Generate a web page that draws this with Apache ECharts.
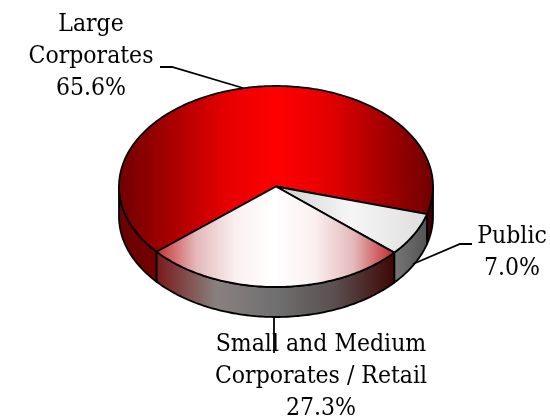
<!DOCTYPE html>
<html>
<head>
<meta charset="utf-8">
<style>html,body{margin:0;padding:0;background:#fff}#c{width:550px;height:417px}</style>
<script src="https://cdn.jsdelivr.net/npm/echarts@6/dist/echarts.min.js"></script>
</head>
<body>
<div id="c"></div>
<script>
const categories = ["Large\nCorporates", "Public", "Small and Medium\nCorporates / Retail"];
const values = [65.6, 7.0, 27.3];

const START = 139.5, CX = 276, CY = 186.5, RX = 157, RY = 100.5, DEPTH = 30;
const G = echarts.graphic.LinearGradient;
const hg = (x0, x1, stops) => new G(x0, 0, x1, 0, stops.map((c, i) => ({offset: i / (stops.length - 1), color: c})), true);

const styles = [
  {top: hg(119, 433, ['#700000', '#a80000', '#e40000', '#ff0000', '#e40000', '#a80000', '#700000']),
   wall: hg(119, 433, ['#6a0000', '#7a0000', '#900000', '#900000', '#700000', '#3c0000']),
   label: [91, 57], leader: [[160, 67], [172, 67], [243, 88]]},
  {top: hg(276, 426, ['#cfcfcf', '#f6f6f6', '#dedede']),
   wall: hg(393, 426, ['#777777', '#555555']),
   label: [512, 253], leader: [[472, 244], [460, 244], [413, 264]]},
  {top: hg(157, 393, ['#c83232', '#e4b8ba', '#fbf0f0', '#ffffff', '#fbf0f0', '#e4b8ba', '#c22c2c']),
   wall: hg(157, 393, ['#7a1a1a', '#8a8080', '#707070', '#5a5050', '#400808']),
   label: [321, 376.5], leader: [[274, 317], [274, 353]]}
];

const total = values.reduce((a, b) => a + b, 0);
const pt = (deg, dy) => {
  const t = deg * Math.PI / 180;
  return [CX + RX * Math.cos(t), CY + RY * Math.sin(t) + (dy || 0)];
};
const arc = (a, b, dy) => {
  const out = [], n = Math.max(2, Math.ceil(Math.abs(b - a)));
  for (let i = 0; i <= n; i++) out.push(pt(a + (b - a) * i / n, dy));
  return out;
};
// the part of a slice's sweep that faces the viewer (screen-lower half of the ellipse)
const wallRanges = (a, b) => {
  const r = [];
  for (const [lo, hi] of [[0, 180], [360, 540]]) {
    const s = Math.max(a, lo), e = Math.min(b, hi);
    if (e > s) r.push([s, e]);
  }
  return r;
};
const stroke = {stroke: '#000', lineWidth: 1.8, lineJoin: 'round'};

function sweep(i) {
  let a = START;
  for (let k = 0; k < i; k++) a += values[k] / total * 360;
  return [a, a + values[i] / total * 360];
}

const option = {
  animation: false,
  backgroundColor: '#fff',
  series: [
    { // walls first
      type: 'custom', coordinateSystem: 'none', silent: true, z: 1,
      data: values.map((v, i) => [i, v]),
      renderItem(params, api) {
        const i = api.value(0), [a, b] = sweep(i);
        return {type: 'group', children: wallRanges(a, b).map(([s, e]) => ({
          type: 'polygon',
          shape: {points: arc(s, e, 0).concat(arc(e, s, DEPTH))},
          style: Object.assign({fill: styles[i].wall}, stroke)
        }))};
      }
    },
    { // top faces
      type: 'custom', coordinateSystem: 'none', silent: true, z: 2,
      data: values.map((v, i) => [i, v]),
      renderItem(params, api) {
        const i = api.value(0), [a, b] = sweep(i);
        return {
          type: 'polygon',
          shape: {points: [[CX, CY]].concat(arc(a, b, 0))},
          style: Object.assign({fill: styles[i].top}, stroke)
        };
      }
    },
    { // leader lines and labels
      type: 'custom', coordinateSystem: 'none', silent: true, z: 3,
      data: values.map((v, i) => [i, v]),
      renderItem(params, api) {
        const i = api.value(0), s = styles[i];
        return {type: 'group', children: [
          {type: 'polyline', shape: {points: s.leader},
           style: {stroke: '#000', lineWidth: 1.8, fill: 'none'}},
          {type: 'text', style: {
            x: s.label[0], y: s.label[1],
            text: categories[i] + '\n' + api.value(1).toFixed(1) + '%',
            align: 'center', verticalAlign: 'middle',
            fontFamily: '"DejaVu Serif Condensed", "DejaVu Serif", serif', fontSize: 24.5, lineHeight: 32, fill: '#000'
          }}
        ]};
      }
    }
  ]
};
echarts.init(document.getElementById('c'), null, {renderer: 'canvas'}).setOption(option);
</script>
</body>
</html>
